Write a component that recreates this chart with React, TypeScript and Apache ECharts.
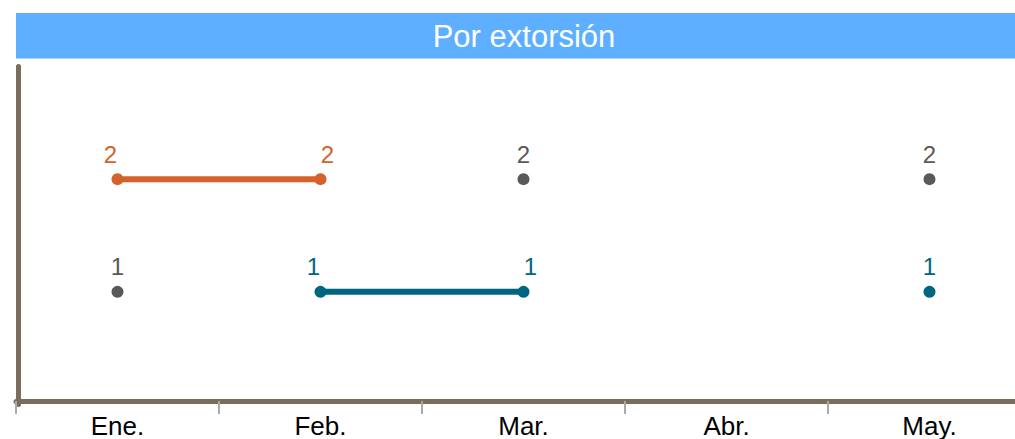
import React, { useEffect, useRef } from "react";
import * as echarts from "echarts";

const categories = ["Ene.", "Feb.", "Mar.", "Abr.", "May."];
const orangeValues = [2, 2, null, null, null];
const tealValues = [null, 1, 1, null, 1];
const grayValues = [1, null, 2, null, 2];
const titleText = "Por extorsión";

const FONT = '"Liberation Sans", Arial, sans-serif';

function withLabelOffsets(values: (number | null)[]) {
  return values.map((v, i) => {
    if (v == null) return null;
    const prev = i > 0 ? values[i - 1] : null;
    const next = i < values.length - 1 ? values[i + 1] : null;
    let dx = 0;
    if (prev == null && next != null) dx = -7;
    else if (prev != null && next == null) dx = 7;
    return { value: v, label: { offset: [dx, 0] } };
  });
}

export default function App() {
  const ref = useRef<HTMLDivElement>(null);
  useEffect(() => {
    if (!ref.current) return;
    const chart = echarts.init(ref.current, null, { renderer: "svg" });
    const mk = (name: string, data: any[], color: string, z: number) => ({
      name,
      type: "line",
      data: withLabelOffsets(data),
      z,
      symbol: "circle",
      symbolSize: 12,
      showSymbol: true,
      showAllSymbol: true,
      connectNulls: false,
      lineStyle: { color, width: 6 },
      itemStyle: { color },
      label: {
        show: true,
        position: "top",
        distance: 7,
        color,
        fontSize: 24,
        fontFamily: FONT,
      },
    });
    chart.setOption({
      animation: false,
      graphic: [
        {
          type: "rect",
          shape: { x: 16, y: 13, width: 1015, height: 45.5 },
          style: { fill: "#5EAFFF" },
          z: 0,
        },
        {
          type: "text",
          x: 524,
          y: 36,
          style: {
            text: titleText,
            fill: "#ffffff",
            fontSize: 31,
            fontFamily: FONT,
            align: "center",
            verticalAlign: "middle",
          },
          z: 1,
        },
      ],
      grid: { left: 16, right: 0, top: 66.5, bottom: 33.5 },
      xAxis: {
        type: "category",
        data: categories,
        boundaryGap: true,
        offset: -3.5,
        axisLine: { show: true, lineStyle: { color: "#7B6D5B", width: 5 } },
        axisTick: {
          show: true,
          length: 13,
          lineStyle: { color: "#AAAAAA", width: 2 },
        },
        axisLabel: {
          color: "#000000",
          fontSize: 26,
          fontFamily: FONT,
          margin: 12,
        },
        splitLine: { show: false },
      },
      yAxis: {
        type: "value",
        min: 0,
        max: 3,
        offset: -2.5,
        axisLine: { show: true, lineStyle: { color: "#7B6D5B", width: 5 } },
        axisTick: { show: false },
        axisLabel: { show: false },
        splitLine: { show: false },
      },
      series: [
        mk("gray", grayValues, "#595959", 2),
        mk("orange", orangeValues, "#D4622A", 3),
        mk("teal", tealValues, "#00667F", 4),
      ],
    });
    return () => chart.dispose();
  }, []);
  return (
    <div
      style={{
        position: "absolute",
        left: 0,
        top: 0,
        width: 1015,
        height: 439,
        overflow: "hidden",
      }}
    >
      <div ref={ref} style={{ width: 1031, height: 439 }} />
    </div>
  );
}
